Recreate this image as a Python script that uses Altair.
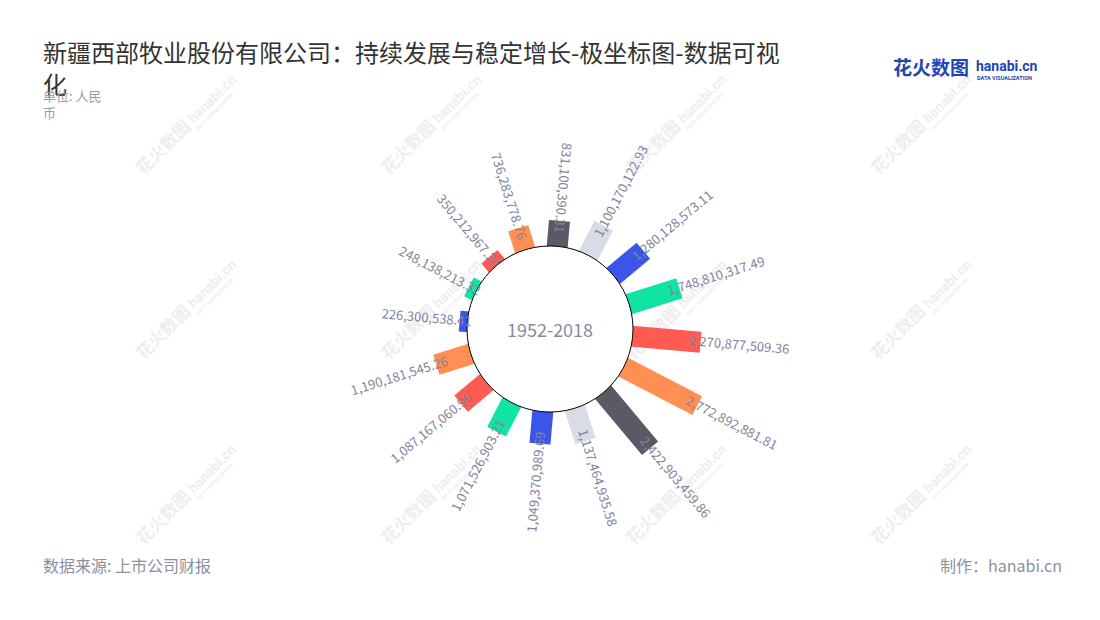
import math
import altair as alt
import pandas as pd

# ---------------- data ----------------
categories = [f"P{i:02d}" for i in range(1, 17)]
values = [
    831100390.31, 1100170122.93, 1280128573.11, 1748810317.49,
    2270877509.36, 2772892881.81, 2422903459.86, 1137464935.58,
    1049370989.69, 1071526903.21, 1087167060.96, 1190181545.26,
    226300538.41, 248138213.32, 350212967.34, 736283778.76,
]
center_label = "1952-2018"
title_lines = ["新疆西部牧业股份有限公司：持续发展与稳定增长-极坐标图-数据可视", "化"]
subtitle_lines = ["单位: 人民", "币"]
source_text = "数据来源: 上市公司财报"
credit_text = "制作：hanabi.cn"

# ---------------- styles ----------------
palette = ["#595a66", "#d8dce6", "#3a55e8", "#10e3a2", "#ff5b53", "#ff8f52"]
bar_colors = [palette[k] for k in [0, 1, 2, 3, 4, 5, 0, 1, 2, 3, 4, 5, 2, 3, 4, 5]]
FONT = "Noto Sans CJK SC"
LABEL_COLOR = "#82839a"
W, H = 1084, 604
CX, CY = 550, 329          # page position of the polar centre
R_HOLE = 83
R0, R1 = 84, 166           # radial range of the bars
START_DEG, STEP_DEG = 5.0, 22.5
VMAX = max(values)

xs = alt.Scale(domain=[8 - CX, 8 + W - CX], nice=False, zero=False)
ys = alt.Scale(domain=[CY - 8 - H, CY - 8], nice=False, zero=False)

df = pd.DataFrame({"cat": categories, "value": values, "idx": list(range(len(values)))})

base = (
    alt.Chart(df)
    .transform_calculate(deg=f"{START_DEG} + datum.idx * {STEP_DEG}")
    .transform_calculate(rad="datum.deg * PI / 180")
    .transform_calculate(rend=f"{R0} + datum.value / {VMAX} * {R1 - R0}")
    .transform_calculate(x0="70 * sin(datum.rad)")
    .transform_calculate(y0="70 * cos(datum.rad)")
    .transform_calculate(x1="datum.rend * sin(datum.rad)")
    .transform_calculate(y1="datum.rend * cos(datum.rad)")
    .transform_calculate(rl="datum.rend - 12")
    .transform_calculate(xl="datum.rl * sin(datum.rad)")
    .transform_calculate(yl="datum.rl * cos(datum.rad)")
    .transform_calculate(flip="datum.deg >= 180 || datum.deg < 10")
    .transform_calculate(ang="datum.flip ? (datum.deg + 90) % 360 : (datum.deg + 270) % 360")
)

bars = base.mark_rule(strokeWidth=21, strokeCap="butt").encode(
    x=alt.X("x0:Q", scale=xs, axis=None),
    y=alt.Y("y0:Q", scale=ys, axis=None),
    x2="x1:Q",
    y2="y1:Q",
    color=alt.Color("cat:N", scale=alt.Scale(domain=categories, range=bar_colors), legend=None),
)

hole_df = pd.DataFrame({"x": [0], "y": [0]})
hole = alt.Chart(hole_df).mark_point(
    shape="circle", filled=True, fill="white", stroke="#000000", strokeWidth=1,
    size=(2 * R_HOLE) ** 2, opacity=1,
).encode(x=alt.X("x:Q", scale=xs, axis=None), y=alt.Y("y:Q", scale=ys, axis=None))

centre = alt.Chart(hole_df).mark_text(
    text=center_label, font=FONT, fontSize=18, color="#8a8b9f", baseline="middle", align="center", dy=3,
).encode(x=alt.X("x:Q", scale=xs, axis=None), y=alt.Y("y:Q", scale=ys, axis=None))

label_enc = dict(
    x=alt.X("xl:Q", scale=xs, axis=None),
    y=alt.Y("yl:Q", scale=ys, axis=None),
    text=alt.Text("value:Q", format=",.2f"),
    angle=alt.Angle("ang:Q", scale=None),
)
labels_out = base.transform_filter("!datum.flip").mark_text(
    align="left", baseline="middle", font=FONT, fontSize=13, color=LABEL_COLOR,
).encode(**label_enc)
labels_in = base.transform_filter("datum.flip").mark_text(
    align="right", baseline="middle", font=FONT, fontSize=13, color=LABEL_COLOR,
).encode(**label_enc)

# ---------------- watermark ----------------
wm_rows = []
for r in range(3):
    for c in range(4):
        px = 164 + 245 * c
        py = 148 + 185 * r
        wm_rows.append({"wx": px - CX, "wy": CY - py,
                        "hx": px + 27 - CX, "hy": CY - (py - 27),
                        "dx_": px + 33 - CX, "dy_": CY - (py - 19)})
wm_df = pd.DataFrame(wm_rows)
WM_COLOR = "#eeeef0"
wm1 = alt.Chart(wm_df).mark_text(
    text="花火数图", font=FONT, fontSize=17, fontWeight="bold", color=WM_COLOR,
    angle=315, align="center", baseline="middle",
).encode(x=alt.X("wx:Q", scale=xs, axis=None), y=alt.Y("wy:Q", scale=ys, axis=None))
wm2 = alt.Chart(wm_df).mark_text(
    text="hanabi.cn", font="Roboto", fontSize=14, fontWeight="bold", color=WM_COLOR,
    angle=315, align="left", baseline="middle",
).encode(x=alt.X("hx:Q", scale=xs, axis=None), y=alt.Y("hy:Q", scale=ys, axis=None))
wm3 = alt.Chart(wm_df).mark_text(
    text="DATA VISUALIZATION", font="Roboto", fontSize=5, fontWeight="bold", color=WM_COLOR,
    angle=315, align="left", baseline="middle",
).encode(x=alt.X("dx_:Q", scale=xs, axis=None), y=alt.Y("dy_:Q", scale=ys, axis=None))

# ---------------- annotations (view coordinates = page - 8) ----------------
one = pd.DataFrame({"a": [0]})


def note(text, x, y, **kw):
    return alt.Chart(one).mark_text(text=text, **kw).encode(x=alt.value(x), y=alt.value(y))


title1 = note(title_lines[0], 35, 47, font=FONT, fontSize=24, color="#333333", align="left", baseline="middle")
title2 = note(title_lines[1], 35, 79, font=FONT, fontSize=24, color="#333333", align="left", baseline="middle")
sub1 = note(subtitle_lines[0], 35, 89, font=FONT, fontSize=13, color="#9a9aa8", align="left", baseline="middle")
sub2 = note(subtitle_lines[1], 35, 106, font=FONT, fontSize=13, color="#9a9aa8", align="left", baseline="middle")
src = note(source_text, 35, 559, font=FONT, fontSize=16, color="#8e8e9e", align="left", baseline="middle")
credit = note(credit_text, 1054, 559, font=FONT, fontSize=16, color="#8e8e9e", align="right", baseline="middle")
logo1 = note("花火数图", 885, 61, font=FONT, fontSize=19, fontWeight="bold", color="#2444b4", align="left", baseline="middle")
logo2 = note("hanabi.cn", 968, 59, font="Roboto", fontSize=14, fontWeight="bold", color="#2444b4", align="left", baseline="middle")
logo3 = note("DATA VISUALIZATION", 969, 70, font="Roboto", fontSize=5.5, fontWeight="bold", color="#2444b4", align="left", baseline="middle")

chart = alt.layer(
    wm1, wm2, wm3,
    bars, hole, labels_out, labels_in, centre,
    title1, title2, sub1, sub2, src, credit, logo1, logo2, logo3,
).properties(
    width=W, height=H, padding=0, autosize=alt.AutoSizeParams(type="none"),
).configure_view(stroke="transparent")

chart.save("out.html", embed_options={"renderer": "svg", "actions": False})
